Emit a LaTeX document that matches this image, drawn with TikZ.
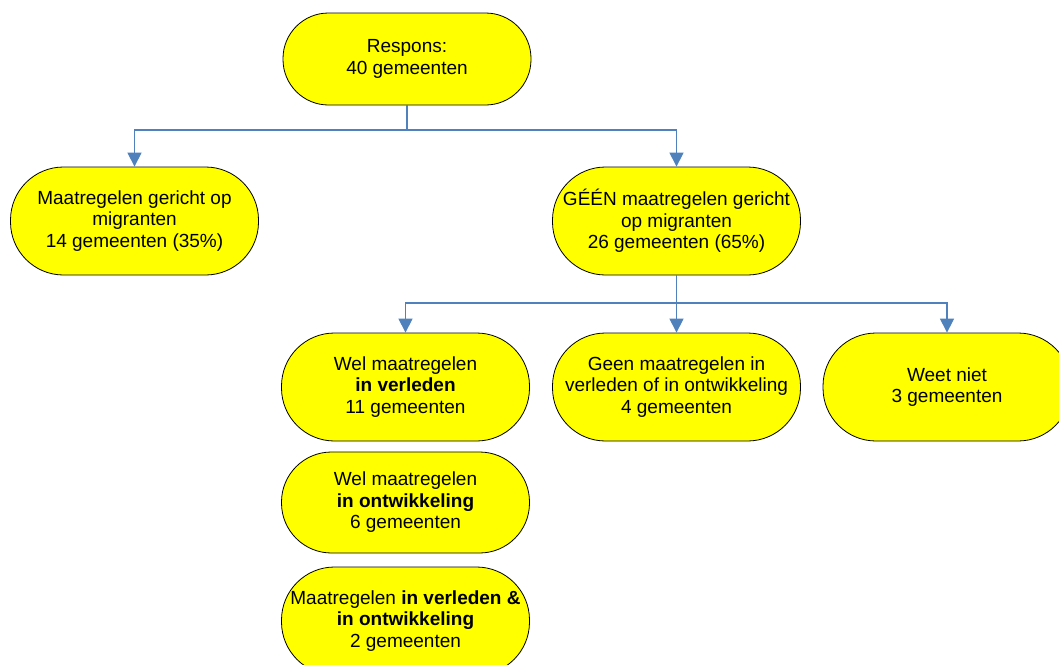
\documentclass[tikz,border=0pt]{standalone}
\usepackage{fontspec}
\setmainfont{Liberation Sans}
\usetikzlibrary{arrows.meta}
\definecolor{conn}{HTML}{4F81BD}
\definecolor{boxyellow}{RGB}{255,255,0}
\tikzset{
  box/.style={draw=black, line width=0.8pt, fill=boxyellow, rounded corners=53pt,
    minimum width=248pt, minimum height=108pt, inner sep=0pt, align=center,
    font=\fontsize{19}{21.5}\selectfont},
  link/.style={draw=conn, line width=1.2pt},
  arr/.style={link, -{Triangle[width=14pt,length=14pt]}}
}
\begin{document}
\begin{tikzpicture}[x=1pt,y=-1pt]
\useasboundingbox (0,0) rectangle (1059,664);
\fill[white] (0,0) rectangle (1059,664);
\clip (0,0) rectangle (1059,664);
\node[box, minimum height=92pt, rounded corners=45.5pt] (top) at (407,59) {Respons:\\40 gemeenten};
\node[box] (gericht) at (134.5,221) {Maatregelen gericht op\\migranten\\14 gemeenten (35\%)};
\node[box] (geen) at (676.5,221) {GÉÉN maatregelen gericht\\op migranten\\26 gemeenten (65\%)};
\node[box] (verleden) at (405.5,387) {Wel maatregelen\\\textbf{in verleden}\\11 gemeenten};
\node[box] (geenmr) at (676.5,387) {Geen maatregelen in\\verleden of in ontwikkeling\\4 gemeenten};
\node[box] (weet) at (947,387) {Weet niet\\3 gemeenten};
\node[box, minimum height=101pt, rounded corners=50pt] (ontw) at (405.5,502.5) {Wel maatregelen\\\textbf{in ontwikkeling}\\6 gemeenten};
\node[box] (beide) at (405.5,621) {Maatregelen \textbf{in verleden \&}\\\textbf{in ontwikkeling}\\2 gemeenten};
\coordinate (j1) at (407,130);
\coordinate (j2) at (676.5,303);
\draw[link] (top.south) -- (j1);
\draw[arr] (j1) -| (gericht.north);
\draw[arr] (j1) -| (geen.north);
\draw[link] (geen.south) -- (j2);
\draw[arr] (j2) -| (verleden.north);
\draw[arr] (j2) -- (geenmr.north);
\draw[arr] (j2) -| (weet.north);
\end{tikzpicture}
\end{document}
